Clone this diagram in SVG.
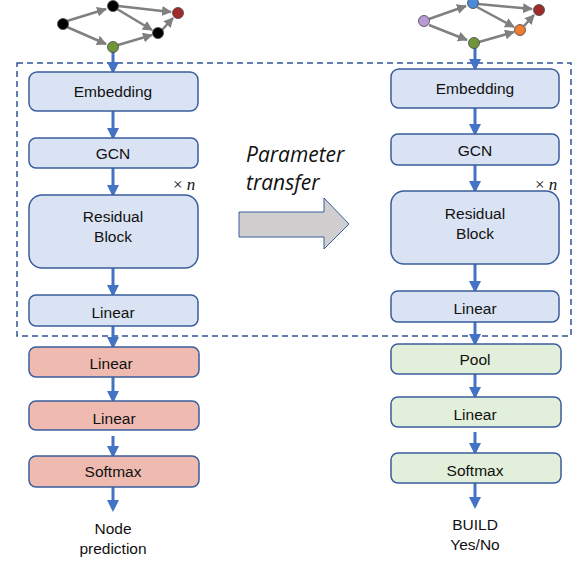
<svg xmlns="http://www.w3.org/2000/svg" width="580" height="565" viewBox="0 0 580 565">
<style>
.box{stroke:#3a5d9c;stroke-width:1.5}
.blue{fill:#dae3f3}
.pink{fill:#efbbb1}
.green{fill:#e2efda}
.lbl{font-family:"Liberation Sans",Arial,sans-serif;font-size:15.5px;fill:#111;text-anchor:middle}
.conn{stroke:#4472c4;stroke-width:3;fill:none;marker-end:url(#ah)}
.gedge{stroke:#808080;stroke-width:2.5;fill:none;marker-end:url(#gh)}
.gn{stroke:#444;stroke-width:0.8}
.xn{font-family:"Liberation Serif",serif;font-size:17px;fill:#111}
.pt{font-family:"Open Sans","Liberation Sans",sans-serif;font-style:italic;font-size:21px;fill:#111}
</style>
<defs>
<marker id="ah" markerWidth="4" markerHeight="4" refX="3" refY="2" orient="auto" markerUnits="strokeWidth">
<path d="M0,0 L4,2 L0,4 Z" fill="#4472c4"/>
</marker>
<marker id="gh" markerWidth="4" markerHeight="4" refX="3.6" refY="2" orient="auto" markerUnits="strokeWidth">
<path d="M0,0 L4,2 L0,4 Z" fill="#808080"/>
</marker>
</defs>

<rect id="dashed-frame" x="17" y="63" width="554" height="273" fill="none" stroke="#2f5597" stroke-width="1.5" stroke-dasharray="6,4"/>

<g id="connectors">
<line class="gedge" x1="67" y1="21" x2="106" y2="9"/>
<line class="gedge" x1="67" y1="27" x2="106" y2="44"/>
<line class="gedge" x1="118" y1="6" x2="171" y2="12"/>
<line class="gedge" x1="117" y1="9" x2="152" y2="30"/>
<line class="gedge" x1="118" y1="45" x2="152" y2="35"/>
<line class="gedge" x1="162" y1="30" x2="173" y2="18"/>
<line class="gedge" x1="429" y1="19" x2="466" y2="6"/>
<line class="gedge" x1="429" y1="25" x2="467" y2="40"/>
<line class="gedge" x1="478" y1="4" x2="532" y2="9"/>
<line class="gedge" x1="477" y1="7" x2="514" y2="27"/>
<line class="gedge" x1="479" y1="42" x2="514" y2="32"/>
<line class="gedge" x1="524" y1="26" x2="534" y2="15"/>
<line class="conn" x1="113" y1="52" x2="113" y2="71"/>
<line class="conn" x1="113" y1="111" x2="113" y2="137"/>
<line class="conn" x1="113" y1="168" x2="113" y2="194"/>
<line class="conn" x1="113" y1="268" x2="113" y2="294"/>
<line class="conn" x1="113" y1="326" x2="113" y2="346"/>
<line class="conn" x1="113" y1="377" x2="113" y2="400"/>
<line class="conn" x1="113" y1="436" x2="113" y2="455"/>
<line class="conn" x1="113" y1="487" x2="113" y2="509"/>
<line class="conn" x1="475" y1="48" x2="475" y2="68"/>
<line class="conn" x1="475" y1="108" x2="475" y2="133"/>
<line class="conn" x1="475" y1="165" x2="475" y2="190"/>
<line class="conn" x1="475" y1="264" x2="475" y2="290"/>
<line class="conn" x1="475" y1="322" x2="475" y2="343"/>
<line class="conn" x1="475" y1="374" x2="475" y2="396"/>
<line class="conn" x1="475" y1="432" x2="475" y2="452"/>
<line class="conn" x1="475" y1="483" x2="475" y2="506"/>
</g>

<g id="graph-left">
<circle class="gn" cx="63" cy="24" r="5.5" fill="#000"/>
<circle class="gn" cx="113" cy="6" r="5.5" fill="#000"/>
<circle class="gn" cx="178" cy="13" r="5.5" fill="#a02b2b"/>
<circle class="gn" cx="158" cy="33" r="5.5" fill="#000"/>
<circle class="gn" cx="113" cy="47" r="5.5" fill="#70963a"/>
</g>
<g id="graph-right">
<circle class="gn" cx="424" cy="21" r="5.5" fill="#b89ad6" stroke="#7030a0"/>
<circle class="gn" cx="473" cy="3" r="5.5" fill="#4a8ad8"/>
<circle class="gn" cx="539" cy="10" r="5.5" fill="#a02b2b"/>
<circle class="gn" cx="520" cy="30" r="5.5" fill="#ed7d31"/>
<circle class="gn" cx="474" cy="43" r="5.5" fill="#70963a"/>
</g>

<g id="l-embedding"><rect class="box blue" x="29" y="72" width="169" height="39" rx="8"/><text class="lbl" x="113" y="97">Embedding</text></g>
<g id="l-gcn"><rect class="box blue" x="29" y="138" width="169" height="30" rx="7"/><text class="lbl" x="113" y="159">GCN</text></g>
<g id="l-xn"><text class="xn" x="173" y="190">× <tspan font-style="italic">n</tspan></text></g>
<g id="l-residual"><rect class="box blue" x="29" y="195" width="169" height="73" rx="13"/><text class="lbl" x="113" y="222">Residual</text><text class="lbl" x="113" y="242">Block</text></g>
<g id="l-linear"><rect class="box blue" x="29" y="295" width="169" height="31" rx="7"/><text class="lbl" x="113" y="318">Linear</text></g>
<g id="l-linear2"><rect class="box pink" x="29" y="347" width="170" height="30" rx="7"/><text class="lbl" x="111" y="369">Linear</text></g>
<g id="l-linear3"><rect class="box pink" x="29" y="401" width="170" height="29" rx="7"/><text class="lbl" x="114" y="424">Linear</text></g>
<g id="l-softmax"><rect class="box pink" x="29" y="456" width="170" height="31" rx="7"/><text class="lbl" x="113" y="477">Softmax</text></g>
<g id="l-out"><text class="lbl" x="113" y="534">Node</text><text class="lbl" x="113" y="554">prediction</text></g>

<g id="r-embedding"><rect class="box blue" x="391" y="69" width="168" height="39" rx="8"/><text class="lbl" x="475" y="94">Embedding</text></g>
<g id="r-gcn"><rect class="box blue" x="391" y="134" width="168" height="31" rx="7"/><text class="lbl" x="475" y="156">GCN</text></g>
<g id="r-xn"><text class="xn" x="535" y="190">× <tspan font-style="italic">n</tspan></text></g>
<g id="r-residual"><rect class="box blue" x="391" y="191" width="168" height="73" rx="13"/><text class="lbl" x="475" y="219">Residual</text><text class="lbl" x="475" y="239">Block</text></g>
<g id="r-linear"><rect class="box blue" x="391" y="291" width="168" height="31" rx="7"/><text class="lbl" x="475" y="314">Linear</text></g>
<g id="r-pool"><rect class="box green" x="391" y="344" width="170" height="30" rx="7"/><text class="lbl" x="475" y="365">Pool</text></g>
<g id="r-linear2"><rect class="box green" x="391" y="397" width="170" height="30" rx="7"/><text class="lbl" x="475" y="420">Linear</text></g>
<g id="r-softmax"><rect class="box green" x="391" y="453" width="170" height="30" rx="7"/><text class="lbl" x="475" y="476">Softmax</text></g>
<g id="r-out"><text class="lbl" x="475" y="530">BUILD</text><text class="lbl" x="475" y="550">Yes/No</text></g>

<g id="transfer">
<text class="pt" x="246" y="162">Parameter</text>
<text class="pt" x="246" y="190">transfer</text>
<path d="M239,212 L324,212 L324,198 L349,224 L324,249 L324,237 L239,237 Z" fill="#d0cece" stroke="#3a5d9c" stroke-width="1"/>
</g>
</svg>
